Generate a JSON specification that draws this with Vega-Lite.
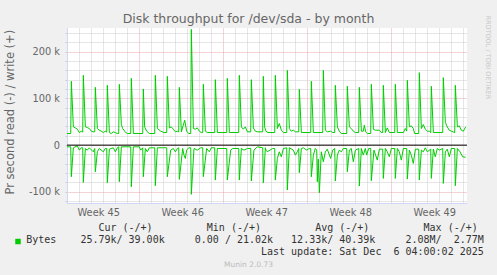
{
  "$schema": "https://vega.github.io/schema/vega-lite/v6.json",
  "width": 400,
  "height": 175,
  "autosize": {"type": "none"},
  "padding": {"left": 67, "top": 28, "right": 30, "bottom": 72},
  "background": "#f0f0f0",
  "config": {"view": {"fill": "#ffffff", "stroke": null}, "font": "DejaVu Sans"},
  "title": {"text": "Disk throughput for /dev/sda - by month", "font": "DejaVu Sans", "fontSize": 12.5, "fontWeight": "normal", "color": "#666666", "anchor": "middle", "dx": -18.5, "dy": 24, "baseline": "alphabetic", "offset": 4},
  "datasets": {
    "write": [
      {"d":0,"v":24.9},{"d":0.31,"v":24.9},{"d":0.36,"v":136.7},{"d":0.53,"v":39.1},{"d":0.69,"v":37.0},{"d":0.86,"v":34.2},{"d":1.03,"v":27.0},{"d":1.19,"v":29.9},{"d":1.31,"v":28.0},{"d":1.36,"v":149.6},{"d":1.53,"v":39.1},{"d":1.69,"v":37.7},{"d":1.86,"v":35.6},{"d":2.03,"v":29.9},{"d":2.19,"v":28.5},{"d":2.31,"v":28.5},{"d":2.36,"v":123.9},{"d":2.53,"v":35.6},{"d":2.69,"v":32.0},{"d":2.86,"v":29.9},{"d":3.03,"v":27.0},{"d":3.19,"v":29.9},{"d":3.31,"v":28.0},{"d":3.36,"v":128.2},{"d":3.53,"v":27.0},{"d":3.69,"v":24.9},{"d":3.86,"v":28.5},{"d":4.03,"v":27.0},{"d":4.19,"v":24.9},{"d":4.31,"v":24.9},{"d":4.36,"v":130.3},{"d":4.53,"v":44.1},{"d":4.64,"v":35.6},{"d":4.89,"v":27.0},{"d":5.03,"v":24.9},{"d":5.31,"v":24.9},{"d":5.36,"v":143.1},{"d":5.53,"v":24.9},{"d":6.31,"v":24.9},{"d":6.36,"v":120.4},{"d":6.47,"v":39.1},{"d":6.64,"v":29.9},{"d":6.86,"v":24.9},{"d":7.31,"v":24.9},{"d":7.36,"v":149.6},{"d":7.53,"v":35.6},{"d":7.81,"v":29.9},{"d":8.08,"v":27.0},{"d":8.31,"v":27.0},{"d":8.36,"v":147.4},{"d":8.53,"v":37.0},{"d":8.69,"v":39.1},{"d":8.86,"v":34.2},{"d":9.03,"v":28.5},{"d":9.19,"v":29.9},{"d":9.31,"v":28.5},{"d":9.36,"v":123.9},{"d":9.53,"v":28.5},{"d":9.69,"v":42.7},{"d":9.81,"v":53.4},{"d":9.97,"v":29.9},{"d":10.14,"v":24.9},{"d":10.31,"v":24.9},{"d":10.36,"v":247.9},{"d":10.53,"v":35.6},{"d":10.69,"v":34.2},{"d":10.86,"v":37.0},{"d":11.03,"v":29.9},{"d":11.19,"v":27.0},{"d":11.31,"v":27.0},{"d":11.36,"v":130.3},{"d":11.53,"v":29.9},{"d":11.69,"v":27.0},{"d":12.31,"v":27.0},{"d":12.36,"v":140.3},{"d":12.53,"v":27.0},{"d":13.31,"v":27.0},{"d":13.36,"v":143.1},{"d":13.53,"v":27.0},{"d":14.31,"v":27.0},{"d":14.36,"v":149.6},{"d":14.53,"v":39.1},{"d":14.69,"v":34.2},{"d":14.86,"v":39.1},{"d":15.03,"v":28.5},{"d":15.31,"v":28.5},{"d":15.36,"v":140.3},{"d":15.53,"v":37.0},{"d":15.69,"v":29.9},{"d":15.86,"v":28.5},{"d":16.31,"v":28.5},{"d":16.36,"v":147.4},{"d":16.47,"v":39.1},{"d":16.58,"v":29.9},{"d":16.75,"v":27.0},{"d":17.31,"v":27.0},{"d":17.36,"v":149.6},{"d":17.53,"v":35.6},{"d":17.69,"v":46.3},{"d":17.86,"v":32.0},{"d":18.03,"v":27.0},{"d":18.31,"v":27.0},{"d":18.36,"v":160.2},{"d":18.53,"v":35.6},{"d":18.69,"v":29.9},{"d":18.86,"v":32.0},{"d":19.03,"v":28.5},{"d":19.31,"v":28.5},{"d":19.36,"v":119.6},{"d":19.53,"v":27.0},{"d":20.31,"v":27.0},{"d":20.36,"v":136.7},{"d":20.53,"v":27.0},{"d":21.31,"v":27.0},{"d":21.36,"v":160.2},{"d":21.53,"v":32.0},{"d":21.69,"v":28.5},{"d":21.97,"v":29.9},{"d":22.14,"v":27.0},{"d":22.31,"v":27.0},{"d":22.36,"v":128.2},{"d":22.53,"v":39.1},{"d":22.69,"v":29.9},{"d":22.86,"v":24.9},{"d":23.31,"v":24.9},{"d":23.36,"v":126.1},{"d":23.53,"v":39.1},{"d":23.69,"v":35.6},{"d":23.86,"v":29.9},{"d":24.03,"v":27.0},{"d":24.31,"v":27.0},{"d":24.36,"v":123.9},{"d":24.53,"v":29.9},{"d":24.69,"v":29.9},{"d":24.78,"v":42.7},{"d":24.89,"v":28.5},{"d":25.03,"v":24.9},{"d":25.31,"v":24.9},{"d":25.36,"v":130.3},{"d":25.53,"v":34.2},{"d":25.69,"v":32.0},{"d":26.03,"v":32.0},{"d":26.19,"v":27.0},{"d":26.31,"v":27.0},{"d":26.36,"v":128.2},{"d":26.53,"v":27.0},{"d":26.69,"v":37.0},{"d":26.86,"v":27.0},{"d":27.31,"v":27.0},{"d":27.36,"v":130.3},{"d":27.53,"v":27.0},{"d":28.03,"v":27.0},{"d":28.19,"v":35.6},{"d":28.31,"v":30.0},{"d":28.36,"v":138.9},{"d":28.53,"v":39.1},{"d":28.69,"v":41.3},{"d":28.86,"v":35.6},{"d":28.97,"v":24.9},{"d":29.31,"v":24.9},{"d":29.36,"v":155.3},{"d":29.53,"v":35.6},{"d":29.69,"v":44.1},{"d":29.86,"v":34.2},{"d":30.03,"v":29.9},{"d":30.19,"v":29.9},{"d":30.31,"v":27.0},{"d":30.36,"v":126.1},{"d":30.53,"v":27.0},{"d":31.31,"v":27.0},{"d":31.36,"v":144.6},{"d":31.53,"v":48.4},{"d":31.69,"v":39.1},{"d":31.86,"v":32.0},{"d":32.03,"v":29.9},{"d":32.31,"v":27.0},{"d":32.36,"v":128.2},{"d":32.53,"v":39.1},{"d":32.69,"v":41.3},{"d":32.86,"v":32.0},{"d":33.03,"v":29.9},{"d":33.22,"v":39.0}
    ],
    "read": [
      {"d":0,"v":-3.6},{"d":0.31,"v":-3.6},{"d":0.36,"v":-67.7},{"d":0.53,"v":-5.7},{"d":0.86,"v":-1.5},{"d":1.03,"v":-10.7},{"d":1.19,"v":-5.7},{"d":1.31,"v":-5.7},{"d":1.36,"v":-79.8},{"d":1.53,"v":-7.2},{"d":1.69,"v":-10.7},{"d":1.86,"v":-5.7},{"d":2.19,"v":-14.3},{"d":2.31,"v":-7.2},{"d":2.36,"v":-57.0},{"d":2.53,"v":-14.3},{"d":2.69,"v":-7.2},{"d":3.03,"v":-14.3},{"d":3.19,"v":-7.2},{"d":3.31,"v":-7.2},{"d":3.36,"v":-80.5},{"d":3.53,"v":-8.6},{"d":3.86,"v":-5.7},{"d":4.03,"v":-14.3},{"d":4.19,"v":-5.7},{"d":4.31,"v":-3.6},{"d":4.36,"v":-78.4},{"d":4.53,"v":-3.6},{"d":5.31,"v":-3.6},{"d":5.36,"v":-89.1},{"d":5.53,"v":-3.6},{"d":6.03,"v":-3.6},{"d":6.14,"v":-10.7},{"d":6.31,"v":-5.7},{"d":6.36,"v":-67.7},{"d":6.53,"v":-7.2},{"d":6.69,"v":-14.3},{"d":6.86,"v":-5.7},{"d":7.31,"v":-5.7},{"d":7.36,"v":-86.9},{"d":7.53,"v":-5.7},{"d":8.31,"v":-5.7},{"d":8.36,"v":-67.7},{"d":8.64,"v":-10.7},{"d":8.86,"v":-7.2},{"d":9.03,"v":-14.3},{"d":9.19,"v":-7.2},{"d":9.31,"v":-5.7},{"d":9.36,"v":-73.4},{"d":9.64,"v":-7.2},{"d":9.75,"v":-21.4},{"d":9.86,"v":-28.5},{"d":9.97,"v":-10.7},{"d":10.14,"v":-5.7},{"d":10.31,"v":-5.7},{"d":10.36,"v":-105.4},{"d":10.58,"v":-7.2},{"d":10.86,"v":-10.7},{"d":11.14,"v":-5.7},{"d":11.31,"v":-5.7},{"d":11.36,"v":-67.7},{"d":11.64,"v":-7.2},{"d":11.86,"v":-14.3},{"d":12.03,"v":-5.7},{"d":12.31,"v":-5.7},{"d":12.36,"v":-74.8},{"d":12.53,"v":-7.2},{"d":13.31,"v":-7.2},{"d":13.36,"v":-74.8},{"d":13.64,"v":-10.7},{"d":13.81,"v":-7.2},{"d":14.31,"v":-7.2},{"d":14.36,"v":-74.8},{"d":14.53,"v":-7.2},{"d":14.75,"v":-10.7},{"d":15.03,"v":-7.2},{"d":15.31,"v":-7.2},{"d":15.36,"v":-76.9},{"d":15.58,"v":-10.7},{"d":15.86,"v":-3.6},{"d":16.31,"v":-5.7},{"d":16.36,"v":-80.5},{"d":16.53,"v":-5.7},{"d":16.58,"v":-10.7},{"d":16.69,"v":-14.3},{"d":16.92,"v":-10.7},{"d":17.14,"v":-7.2},{"d":17.31,"v":-7.2},{"d":17.36,"v":-74.8},{"d":17.53,"v":-28.5},{"d":17.69,"v":-14.3},{"d":17.86,"v":-25.0},{"d":18.03,"v":-7.2},{"d":18.31,"v":-5.7},{"d":18.36,"v":-96.2},{"d":18.53,"v":-5.7},{"d":18.86,"v":-10.7},{"d":19.03,"v":-21.4},{"d":19.19,"v":-14.3},{"d":19.31,"v":-7.2},{"d":19.36,"v":-59.1},{"d":19.53,"v":-7.2},{"d":19.69,"v":-5.7},{"d":19.97,"v":-10.7},{"d":20.19,"v":-7.2},{"d":20.31,"v":-7.2},{"d":20.36,"v":-67.7},{"d":20.53,"v":-21.4},{"d":20.69,"v":-7.2},{"d":20.81,"v":-10.7},{"d":20.86,"v":-78.4},{"d":20.94,"v":-30.0},{"d":21.03,"v":-101.9},{"d":21.19,"v":-14.3},{"d":21.36,"v":-35.6},{"d":21.53,"v":-14.3},{"d":21.69,"v":-8.6},{"d":21.97,"v":-28.5},{"d":22.14,"v":-10.7},{"d":22.31,"v":-7.2},{"d":22.36,"v":-76.9},{"d":22.53,"v":-21.4},{"d":22.69,"v":-10.7},{"d":22.86,"v":-14.3},{"d":23.03,"v":-7.2},{"d":23.31,"v":-7.2},{"d":23.36,"v":-57.0},{"d":23.53,"v":-10.7},{"d":23.69,"v":-7.2},{"d":23.86,"v":-35.6},{"d":24.03,"v":-10.7},{"d":24.31,"v":-7.2},{"d":24.36,"v":-87.6},{"d":24.53,"v":-7.2},{"d":24.69,"v":-21.4},{"d":24.86,"v":-7.2},{"d":24.97,"v":-21.4},{"d":25.14,"v":-7.2},{"d":25.31,"v":-7.2},{"d":25.36,"v":-76.2},{"d":25.58,"v":-10.7},{"d":25.86,"v":-32.1},{"d":26.03,"v":-8.6},{"d":26.31,"v":-8.6},{"d":26.36,"v":-71.3},{"d":26.53,"v":-7.2},{"d":26.69,"v":-14.3},{"d":26.86,"v":-25.0},{"d":27.03,"v":-7.2},{"d":27.31,"v":-7.2},{"d":27.36,"v":-71.3},{"d":27.53,"v":-7.2},{"d":27.69,"v":-14.3},{"d":27.86,"v":-32.1},{"d":28.03,"v":-7.2},{"d":28.31,"v":-7.2},{"d":28.36,"v":-72.7},{"d":28.53,"v":-10.7},{"d":28.69,"v":-21.4},{"d":28.86,"v":-39.2},{"d":29.03,"v":-8.6},{"d":29.31,"v":-8.6},{"d":29.36,"v":-74.8},{"d":29.53,"v":-10.7},{"d":29.69,"v":-14.3},{"d":29.86,"v":-5.7},{"d":30.03,"v":-14.3},{"d":30.31,"v":-8.6},{"d":30.36,"v":-71.3},{"d":30.53,"v":-8.6},{"d":30.69,"v":-25.0},{"d":30.86,"v":-7.2},{"d":31.03,"v":-10.7},{"d":31.31,"v":-7.2},{"d":31.36,"v":-81.9},{"d":31.53,"v":-14.3},{"d":31.69,"v":-8.6},{"d":31.86,"v":-25.0},{"d":32.03,"v":-7.2},{"d":32.31,"v":-7.2},{"d":32.36,"v":-86.9},{"d":32.53,"v":-7.2},{"d":32.75,"v":-14.3},{"d":32.97,"v":-25.0},{"d":33.22,"v":-25.8}
    ]
  },
  "layer": [
    {
      "data": {"name": "write"},
      "mark": {"type": "line", "strokeWidth": 1},
      "encoding": {
        "x": {"field": "d", "type": "quantitative", "scale": {"domain": [0, 33.333], "nice": false, "zero": false},
          "axis": {
            "orient": "bottom",
            "values": [0,1,2,3,4,5,6,7,8,9,10,11,12,13,14,15,16,17,18,19,20,21,22,23,24,25,26,27,28,29,30,31,32,33,2.6,9.6,16.6,23.6,30.6],
            "grid": true,
            "gridColor": {"condition": {"test": "datum.value % 7 == 6", "value": "#e6a6a6"}, "value": "#cccccc"},
            "gridOpacity": {"condition": {"test": "datum.value % 1 != 0", "value": 0}, "value": 1},
            "gridDash": [1, 1],
            "ticks": false,
            "domainColor": "#cfd6f8",
            "labelExpr": "datum.value % 1 != 0 ? 'Week ' + (45 + floor(datum.value / 7)) : ''",
            "labelFont": "DejaVu Sans", "labelFontSize": 9.8, "labelColor": "#666666", "labelPadding": 4,
            "labelOverlap": false, "labelFlush": false, "labelBound": false,
            "title": [
              "\u200b\u00a0\u00a0\u00a0\u00a0\u00a0\u00a0\u00a0\u00a0\u00a0\u00a0\u00a0\u00a0Cur\u00a0(-/+)\u00a0\u00a0\u00a0\u00a0\u00a0\u00a0\u00a0\u00a0\u00a0Min\u00a0(-/+)\u00a0\u00a0\u00a0\u00a0\u00a0\u00a0\u00a0\u00a0\u00a0Avg\u00a0(-/+)\u00a0\u00a0\u00a0\u00a0\u00a0\u00a0\u00a0\u00a0\u00a0Max\u00a0(-/+)",
              "Bytes\u00a0\u00a0\u00a0\u00a025.79k/\u00a039.00k\u00a0\u00a0\u00a0\u00a0\u00a00.00\u00a0/\u00a021.02k\u00a0\u00a0\u00a012.33k/\u00a040.39k\u00a0\u00a0\u00a0\u00a0\u00a02.08M/\u00a0\u00a02.77M",
              "\u200b\u00a0\u00a0\u00a0\u00a0\u00a0\u00a0\u00a0\u00a0\u00a0\u00a0\u00a0\u00a0\u00a0\u00a0\u00a0\u00a0\u00a0\u00a0\u00a0\u00a0\u00a0\u00a0\u00a0\u00a0\u00a0\u00a0\u00a0\u00a0\u00a0\u00a0\u00a0\u00a0\u00a0\u00a0\u00a0\u00a0\u00a0\u00a0\u00a0Last\u00a0update:\u00a0Sat\u00a0Dec\u00a0\u00a06\u00a004:00:02\u00a02025"
            ],
            "titleFont": "DejaVu Sans Mono", "titleFontSize": 10, "titleFontWeight": "normal", "titleColor": "#333333",
            "titleAlign": "left", "titleBaseline": "alphabetic", "titleX": -41.3, "titleY": 27.7, "titleLineHeight": 12
          }
        },
        "y": {"field": "v", "type": "quantitative", "scale": {"domain": [-124, 251], "nice": false, "zero": false},
          "axis": {
            "orient": "left",
            "values": [-120,-100,-80,-60,-40,-20,0,20,40,60,80,100,120,140,160,180,200,220,240],
            "grid": true,
            "gridColor": {"condition": {"test": "datum.value % 100 == 0", "value": "#e6a6a6"}, "value": "#cccccc"},
            "gridDash": [1, 1],
            "ticks": true, "tickSize": 2, "tickColor": "#cccccc",
            "domainColor": "#cfd6f8",
            "labelExpr": "datum.value % 100 == 0 ? (datum.value == 0 ? '0' : datum.value + ' k') : ''",
            "labelFont": "DejaVu Sans", "labelFontSize": 9.8, "labelColor": "#666666", "labelPadding": 5.5,
            "labelOverlap": false, "labelFlush": false, "labelBound": false,
            "title": "Pr second read (-) / write (+)",
            "titleFont": "DejaVu Sans", "titleFontSize": 11.5, "titleFontWeight": "normal", "titleColor": "#666666",
            "titleAngle": 270, "titleAlign": "center", "titleBaseline": "middle", "titleX": -56.3, "titleY": 83.7
          }
        },
        "color": {"datum": "Bytes", "scale": {"range": ["#00cc00"]},
          "legend": {"orient": "none", "legendX": -54, "legendY": 208.5, "title": null, "symbolType": "square", "symbolFillColor": "#00cc00", "symbolStrokeColor": "#00cc00", "symbolStrokeWidth": 0, "symbolSize": 30, "labelExpr": "''", "padding": 0}
        }
      }
    },
    {
      "data": {"name": "read"},
      "mark": {"type": "line", "strokeWidth": 1},
      "encoding": {
        "x": {"field": "d", "type": "quantitative",
          "axis": {"orient": "bottom", "grid": false, "ticks": false, "labels": false, "domain": false,
            "title": "Munin 2.0.73", "titleFont": "DejaVu Sans", "titleFontSize": 7.5, "titleFontWeight": "normal", "titleColor": "#bbbbbb",
            "titleAlign": "center", "titleBaseline": "middle", "titleX": 181, "titleY": 61}
        },
        "y": {"field": "v", "type": "quantitative",
          "axis": {"orient": "right", "grid": false, "ticks": false, "labels": false, "domain": false,
            "title": "RRDTOOL / TOBI OETIKER", "titleFont": "DejaVu Sans", "titleFontSize": 6.5, "titleFontWeight": "normal", "titleColor": "#c8c8c8",
            "titleAngle": 90, "titleAlign": "left", "titleBaseline": "middle", "titleX": 20, "titleY": -13}
        },
        "color": {"datum": "Bytes"}
      }
    },
    {
      "data": {"values": [{}]},
      "mark": {"type": "rule", "color": "#000000", "strokeWidth": 1},
      "encoding": {"y": {"datum": 0, "type": "quantitative", "axis": null}}
    }
  ],
  "resolve": {"axis": {"x": "independent", "y": "independent"}}
}
